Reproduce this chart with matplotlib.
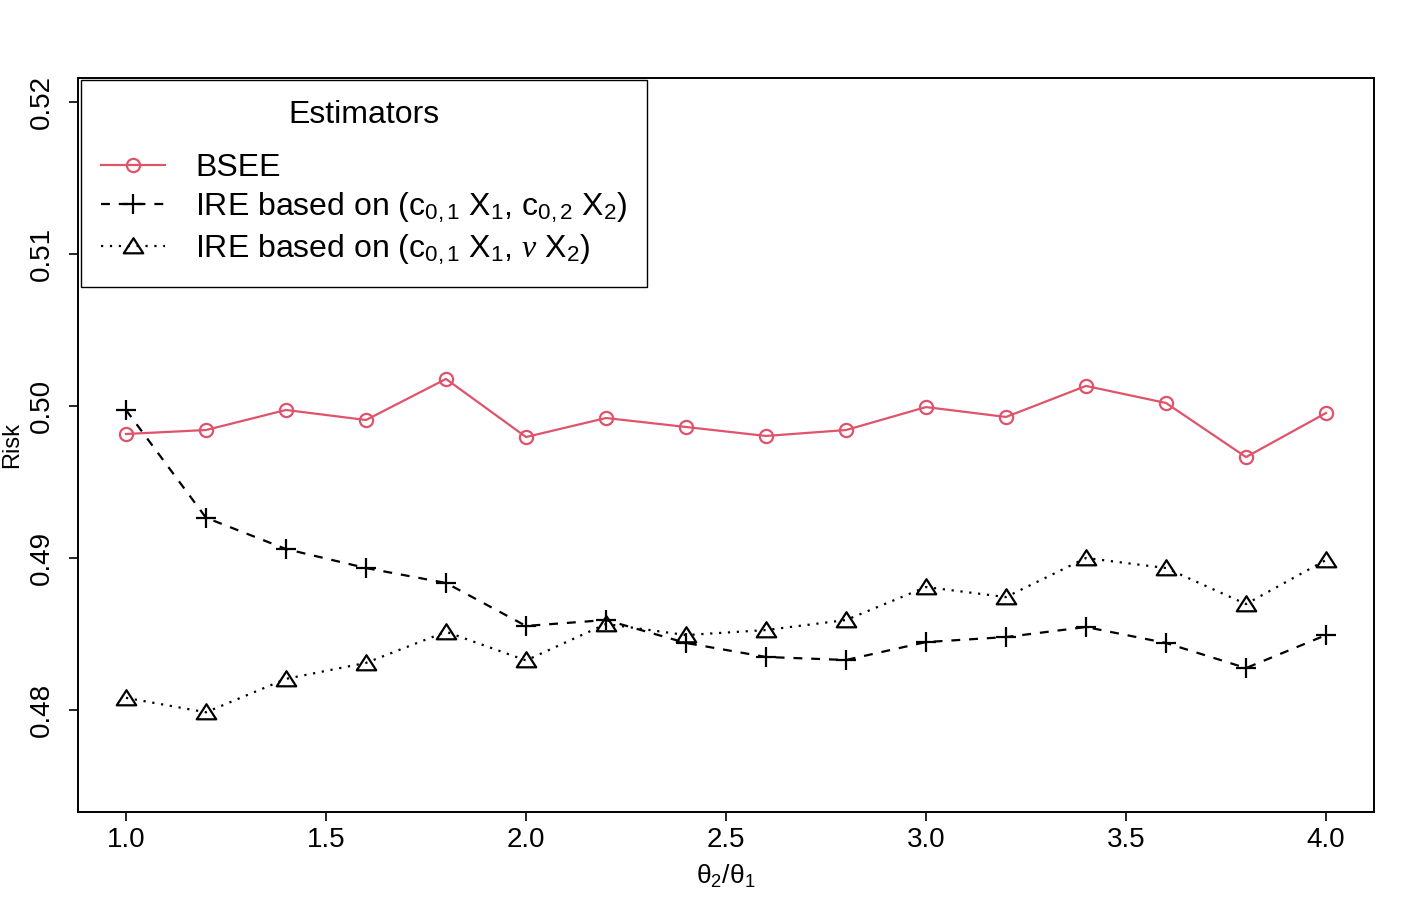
import numpy as np
import matplotlib
matplotlib.use('Agg')
import matplotlib.pyplot as plt
from matplotlib.path import Path

plt.rcParams['font.family'] = ['Liberation Sans', 'DejaVu Sans']
plt.rcParams['mathtext.fontset'] = 'custom'
plt.rcParams['mathtext.rm'] = 'Liberation Sans'
plt.rcParams['mathtext.it'] = 'Liberation Serif:italic'
plt.rcParams['mathtext.sf'] = 'Liberation Sans'

# data
ratio = [1.0, 1.2, 1.4, 1.6, 1.8, 2.0, 2.2, 2.4, 2.6, 2.8, 3.0, 3.2, 3.4, 3.6, 3.8, 4.0]
bsee = [0.49816, 0.49842, 0.49974, 0.49908, 0.50178, 0.49796, 0.49921, 0.49862,
        0.49803, 0.49842, 0.49993, 0.49928, 0.50132, 0.50020, 0.49664, 0.49954]
ire_c = [0.49974, 0.49265, 0.49059, 0.48934, 0.48836, 0.48553, 0.48592, 0.48441,
         0.48349, 0.48329, 0.48447, 0.48480, 0.48546, 0.48441, 0.48276, 0.48493]
ire_nu = [0.48080, 0.47985, 0.48205, 0.48310, 0.48515, 0.48326, 0.48566, 0.48493,
          0.48526, 0.48592, 0.48809, 0.48743, 0.49000, 0.48934, 0.48697, 0.48987]

labels = ['BSEE',
          r'IRE based on (c$_{0,1}$ X$_1$, c$_{0,2}$ X$_2$)',
          r'IRE based on (c$_{0,1}$ X$_1$, $\nu$ X$_2$)']

red = '#DF536B'
tri = Path([(0, 0.85), (-1, -0.7), (1, -0.7), (0, 0.85)],
           [Path.MOVETO, Path.LINETO, Path.LINETO, Path.CLOSEPOLY])

fig = plt.figure(figsize=(14.15, 9.1), dpi=100)
ax = fig.add_axes([78 / 1415, 98 / 910, 1296 / 1415, 734 / 910])

ax.plot(ratio, bsee, color=red, lw=1.6, marker='o', ms=9.5, mfc='none',
        mew=1.6, label=labels[0])
ax.plot(ratio, ire_c, color='black', lw=1.6, dashes=(4, 4), marker='+',
        ms=14, mew=1.6, label=labels[1])
ax.plot(ratio, ire_nu, color='black', lw=1.6, dashes=(1, 3), marker=tri,
        ms=14, mfc='none', mew=1.6, label=labels[2])

ax.set_xlim(0.88, 4.12)
ax.set_ylim(0.47329, 0.52158)
ax.set_xticks([1.0, 1.5, 2.0, 2.5, 3.0, 3.5, 4.0])
ax.set_xticklabels(['1.0', '1.5', '2.0', '2.5', '3.0', '3.5', '4.0'], fontsize=20)
ax.set_yticks([0.48, 0.49, 0.50, 0.51, 0.52])
ax.set_yticklabels(['0.48', '0.49', '0.50', '0.51', '0.52'], fontsize=20,
                   rotation=90, va='center')
ax.tick_params(axis='x', length=6.5, width=1.2, pad=4)
ax.tick_params(axis='y', length=6.5, width=1.2, pad=10)
for s in ax.spines.values():
    s.set_linewidth(1.4)

ax.set_ylabel('Risk', fontsize=17, labelpad=4)
ax.set_xlabel(r'$\mathrm{\theta_2/\theta_1}$', fontsize=19, labelpad=7)

leg = ax.legend(title='Estimators', loc='upper left',
                bbox_to_anchor=(81 / 1415, 1 - 80 / 910),
                bbox_transform=fig.transFigure, borderaxespad=0,
                fontsize=23, title_fontsize=23, handlelength=2.0,
                handletextpad=0.95, labelspacing=0.22, borderpad=0.62,
                fancybox=False, framealpha=1)
leg.get_frame().set_edgecolor('black')
leg.get_frame().set_linewidth(1.0)
leg._legend_box.sep = 17

fig.savefig('out.png', dpi=100)
